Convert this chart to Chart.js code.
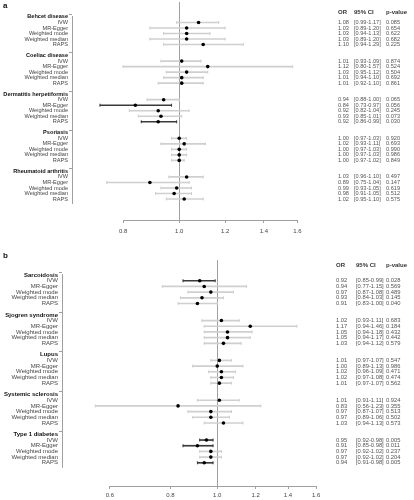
<!DOCTYPE html>
<html>
<head>
<meta charset="utf-8">
<script src="https://cdn.jsdelivr.net/npm/chart.js@4.4.0/dist/chart.umd.min.js"></script>
<style>
  body { margin:0; background:#fff; width:414px; height:500px; overflow:hidden; position:relative; font-family:"Liberation Sans", Arial, sans-serif; }
  .wrap { position:absolute; left:0; width:414px; }
  #wa { top:0; height:248px; }
  #wb { top:250px; height:250px; }
  .tag { position:absolute; left:3px; font-weight:bold; font-size:8px; color:#111; }
</style>
</head>
<body>
<div class="wrap" id="wa"><canvas id="chartA"></canvas></div>
<div class="wrap" id="wb"><canvas id="chartB"></canvas></div>
<div class="tag" style="top:1px">a</div>
<div class="tag" style="top:251px">b</div>
<script>
// methods, same for every disease
const methods = ['IVW', 'MR-Egger', 'Weighted mode', 'Weighted median', 'RAPS'];

// panel a
const diseasesA = ['Behcet disease', 'Coeliac disease', 'Dermatitis herpetiformis', 'Psoriasis', 'Rheumatoid arthritis'];
const orA = [[1.08,1.03,1.03,1.03,1.10],[1.01,1.12,1.03,1.01,1.01],[0.94,0.84,0.92,0.93,0.92],[1.00,1.02,1.00,1.00,1.00],[1.03,0.89,0.99,0.98,1.02]];
const loA = [[0.99,0.89,0.94,0.89,0.94],[0.93,0.80,0.95,0.94,0.92],[0.88,0.73,0.82,0.85,0.86],[0.97,0.93,0.97,0.97,0.97],[0.96,0.75,0.93,0.91,0.95]];
const hiA = [[1.17,1.20,1.13,1.20,1.29],[1.09,1.57,1.12,1.10,1.10],[1.00,0.97,1.04,1.01,0.99],[1.03,1.11,1.03,1.03,1.02],[1.10,1.04,1.05,1.05,1.10]];
const pA  = [[0.085,0.654,0.622,0.682,0.225],[0.874,0.524,0.504,0.692,0.861],[0.065,0.056,0.245,0.073,0.030],[0.920,0.693,0.990,0.986,0.849],[0.497,0.147,0.619,0.512,0.575]];
const xTicksA = [0.8, 1.0, 1.2, 1.4, 1.6];

// panel b
const diseasesB = ['Sarcoidosis', 'Sjogren syndrome', 'Lupus', 'Systemic sclerosis', 'Type 1 diabetes'];
const orB = [[0.92,0.94,0.97,0.93,0.91],[1.02,1.17,1.05,1.05,1.03],[1.01,1.00,1.02,1.02,1.01],[1.01,0.83,0.97,0.97,1.03],[0.95,0.91,0.97,0.97,0.94]];
const loB = [[0.85,0.77,0.87,0.84,0.83],[0.93,0.94,0.94,0.94,0.94],[0.97,0.89,0.96,0.97,0.97],[0.91,0.56,0.87,0.89,0.94],[0.92,0.85,0.92,0.92,0.91]];
const hiB = [[0.99,1.15,1.08,1.03,1.00],[1.11,1.46,1.18,1.17,1.12],[1.07,1.13,1.09,1.08,1.07],[1.11,1.23,1.07,1.06,1.13],[0.98,0.98,1.02,1.02,0.98]];
const pB  = [[0.028,0.569,0.489,0.145,0.040],[0.683,0.184,0.432,0.442,0.579],[0.547,0.986,0.471,0.474,0.562],[0.924,0.355,0.513,0.502,0.573],[0.005,0.011,0.237,0.204,0.005]];
const xTicksB = [0.6, 0.8, 1.0, 1.2, 1.4, 1.6];

const tableHead = ['OR', '95% CI', 'p-value'];
const FONT = '"Liberation Sans", Arial, sans-serif';

function makeForest(id, d, lay) {
  // one slot per line: header, 5 methods, blank
  const slots = [], headers = new Set();
  d.diseases.forEach((name, g) => {
    headers.add(slots.length); slots.push(name);
    methods.forEach(m => slots.push(m));
    slots.push('');
  });
  const rowIdx = (g, m) => g * 7 + 1 + m;
  const lastRow = rowIdx(d.diseases.length - 1, methods.length - 1);

  const bars = [], barCol = [], pts = [], caps = [], capCol = [];
  d.diseases.forEach((_, g) => methods.forEach((_, m) => {
    const i = rowIdx(g, m), lo = d.lo[g][m], hi = d.hi[g][m];
    const col = (hi < 1 || lo > 1) ? '#3a3a3a' : '#cfcfcf';
    bars.push({ x: [lo, hi], y: i }); barCol.push(col);
    pts.push({ x: d.or[g][m], y: i });
    caps.push({ x: lo, y: i }, { x: hi, y: i }); capCol.push(col, col);
  }));

  const deco = {
    id: 'deco' + id,
    beforeDatasetsDraw(chart) {
      const { ctx, chartArea, scales: { x, y } } = chart;
      ctx.save();
      ctx.strokeStyle = '#a0a0a0'; ctx.lineWidth = 1;
      const x1 = Math.round(x.getPixelForValue(1)) + 0.5;
      ctx.beginPath(); ctx.moveTo(x1, y.getPixelForValue(0) - 15); ctx.lineTo(x1, chartArea.bottom); ctx.stroke();
      const xl = Math.round(chartArea.left) + 0.5;
      ctx.beginPath(); ctx.moveTo(xl, y.getPixelForValue(0) - 1); ctx.lineTo(xl, y.getPixelForValue(lastRow) + 5); ctx.stroke();
      const yb = Math.round(chartArea.bottom) + 0.5;
      ctx.beginPath();
      ctx.moveTo(x.getPixelForValue(d.xTicks[0]), yb);
      ctx.lineTo(x.getPixelForValue(d.xTicks[d.xTicks.length - 1]), yb);
      ctx.stroke();
      ctx.restore();
    },
    afterDraw(chart) {
      const { ctx, scales: { y } } = chart;
      ctx.save();
      ctx.textBaseline = 'middle'; ctx.textAlign = 'left';
      ctx.fillStyle = '#333';
      ctx.font = 'bold ' + lay.headSize + 'px ' + FONT;
      tableHead.forEach((t, k) => ctx.fillText(t, lay.cols[k], lay.headY));
      ctx.fillStyle = '#555';
      ctx.font = lay.tabSize + 'px ' + FONT;
      d.diseases.forEach((_, g) => methods.forEach((_, m) => {
        const py = y.getPixelForValue(rowIdx(g, m));
        ctx.fillText(d.or[g][m].toFixed(2), lay.cols[0], py);
        ctx.fillText('[' + d.lo[g][m].toFixed(2) + '-' + d.hi[g][m].toFixed(2) + ']', lay.cols[1], py);
        ctx.fillText(d.p[g][m].toFixed(3), lay.cols[2], py);
      }));
      ctx.restore();
    }
  };

  return new Chart(document.getElementById(id), {
    type: 'scatter',
    data: {
      datasets: [
        { data: pts, order: 0, pointRadius: 1.8, pointBackgroundColor: '#000', pointBorderColor: '#000', pointBorderWidth: 0, pointHoverRadius: 1.8 },
        { data: caps, order: 1, pointStyle: 'line', rotation: 90, pointRadius: 1.5, pointBorderColor: capCol, pointBorderWidth: 1, pointHoverRadius: 1.5 },
        { type: 'bar', indexAxis: 'y', data: bars, order: 2, backgroundColor: barCol, barThickness: 1, borderWidth: 0 }
      ]
    },
    options: {
      responsive: true,
      maintainAspectRatio: false,
      animation: false,
      events: [],
      layout: { padding: { top: lay.top, left: 0, right: lay.right, bottom: lay.bottom } },
      plugins: { legend: { display: false }, tooltip: { enabled: false } },
      scales: {
        x: {
          type: 'logarithmic', min: lay.xMin, max: lay.xMax,
          afterBuildTicks: s => { s.ticks = d.xTicks.map(v => ({ value: v })); },
          afterFit: s => { s.height = lay.xH; },
          border: { display: false },
          grid: { drawOnChartArea: false, tickLength: 3, color: '#a0a0a0' },
          ticks: { autoSkip: false, maxRotation: 0, padding: lay.tickPad, color: '#444', font: { size: 6, family: FONT }, callback: v => Number(v).toFixed(1) }
        },
        y: {
          type: 'linear', reverse: true, min: 0, max: lay.yMax,
          afterBuildTicks: s => { s.ticks = slots.map((_, i) => ({ value: i })); },
          afterFit: s => { s.width = lay.left; },
          border: { display: false },
          grid: { drawOnChartArea: false, tickLength: 3, color: c => headers.has(c.index) ? '#a0a0a0' : 'rgba(0,0,0,0)' },
          ticks: {
            autoSkip: false, padding: 1,
            color: c => headers.has(c.index) ? '#111' : '#444',
            font: c => ({ size: lay.labSize, family: FONT, weight: headers.has(c.index) ? 'bold' : 'normal' }),
            callback: v => slots[v] || ''
          }
        }
      }
    },
    plugins: [deco]
  });
}

makeForest('chartA',
  { diseases: diseasesA, or: orA, lo: loA, hi: hiA, p: pA, xTicks: xTicksA },
  { top: 14, bottom: 8, right: 94, left: 72, xH: 20, xMin: 0.653, xMax: 1.75, yMax: 36.27, tickPad: 5,
    labSize: 5.6, headSize: 6, tabSize: 5.6, headY: 12, cols: [338, 354, 386] });

makeForest('chartB',
  { diseases: diseasesB, or: orB, lo: loB, hi: hiB, p: pB, xTicks: xTicksB },
  { top: 22, bottom: 1, right: 94, left: 62, xH: 13, xMin: 0.478, xMax: 1.63, yMax: 36.54, tickPad: 3,
    labSize: 6, headSize: 6, tabSize: 5.8, headY: 15, cols: [336, 356, 386] });
</script>
</body>
</html>
